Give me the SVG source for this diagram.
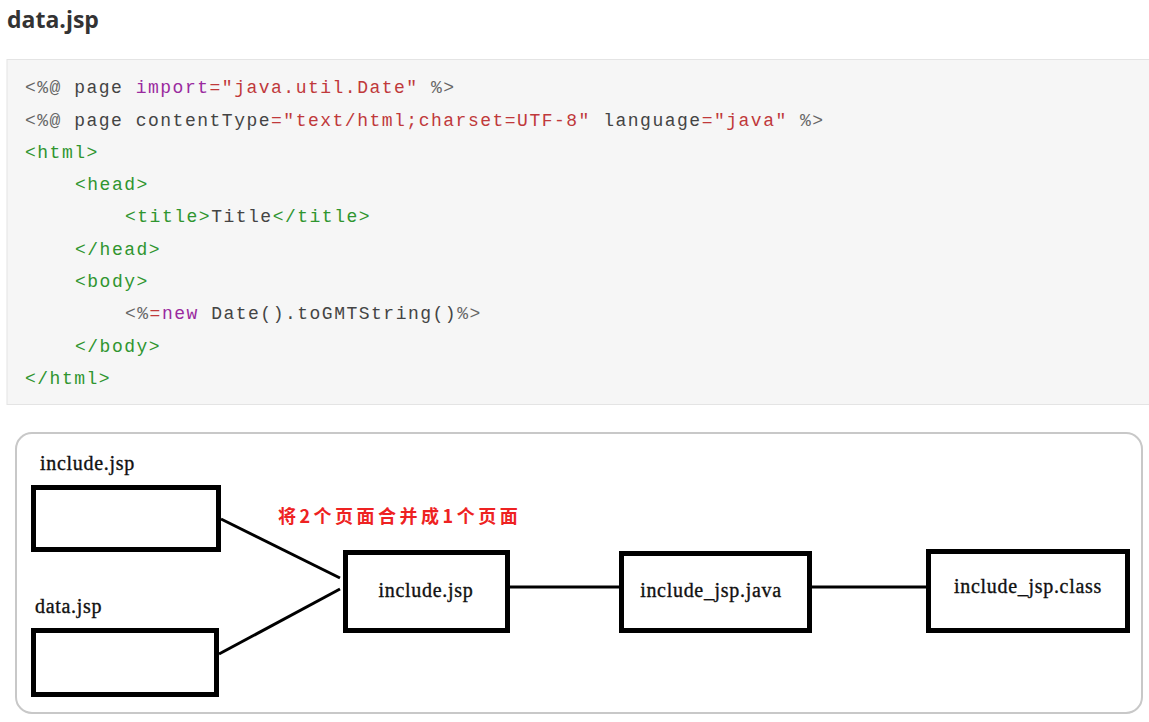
<svg xmlns="http://www.w3.org/2000/svg" width="1149" height="722" viewBox="0 0 1149 722">
<style>
.code{font-family:"Liberation Mono","DejaVu Sans Mono",monospace;font-size:18px;letter-spacing:1.5px;fill:#444;white-space:pre}
.k{fill:#9a2a9f}.s{fill:#c0393b}.t{fill:#2f952f}.g{fill:#666}
.lbl{font-family:"Liberation Serif",serif;font-size:20px;letter-spacing:0.7px;fill:#111;stroke:#111;stroke-width:0.35}
.box{fill:#fff;stroke:#000;stroke-width:5}
.conn{stroke:#000;stroke-width:3;fill:none}
</style>
<rect width="1149" height="722" fill="#fff"/>
<text x="7" y="28" font-family="'Open Sans','Noto Sans',sans-serif" font-weight="bold" font-size="23" fill="#333">data.jsp</text>
<g id="code">
<rect x="7" y="59.5" width="1150" height="345" fill="#f6f6f6" stroke="#e4e4e4" stroke-width="1"/>
<text class="code" x="25" y="93" xml:space="preserve"><tspan class="g">&lt;%@</tspan> page <tspan class="k">import</tspan><tspan class="s">="java.util.Date"</tspan> <tspan class="g">%&gt;</tspan></text>
<text class="code" x="25" y="125.5" xml:space="preserve"><tspan class="g">&lt;%@</tspan> page contentType<tspan class="s">="text/html;charset=UTF-8"</tspan> language<tspan class="s">="java"</tspan> <tspan class="g">%&gt;</tspan></text>
<text class="code t" x="25" y="158">&lt;html&gt;</text>
<text class="code t" x="75" y="190">&lt;head&gt;</text>
<text class="code" x="125" y="222"><tspan class="t">&lt;title&gt;</tspan>Title<tspan class="t">&lt;/title&gt;</tspan></text>
<text class="code t" x="75" y="254.5">&lt;/head&gt;</text>
<text class="code t" x="75" y="287">&lt;body&gt;</text>
<text class="code" x="125" y="319"><tspan class="g">&lt;%</tspan><tspan class="s">=</tspan><tspan class="k">new</tspan> Date().toGMTString()<tspan class="g">%&gt;</tspan></text>
<text class="code t" x="75" y="351.5">&lt;/body&gt;</text>
<text class="code t" x="25" y="384">&lt;/html&gt;</text>
</g>
<rect x="16" y="433" width="1126" height="280" rx="16" fill="#fff" stroke="#c8c8c8" stroke-width="2"/>
<g id="connectors">
<line class="conn" x1="221" y1="519" x2="340" y2="578"/>
<line class="conn" x1="219" y1="654" x2="340" y2="589"/>
<line class="conn" x1="510" y1="587" x2="619" y2="587"/>
<line class="conn" x1="811" y1="587" x2="926" y2="587"/>
</g>
<text x="278" y="523" font-family="'Noto Sans CJK SC',sans-serif" font-weight="bold" font-size="18" letter-spacing="3.5" fill="#ee2222">将2个页面合并成1个页面</text>
<g id="node-include-top">
<text class="lbl" x="40" y="470">include.jsp</text>
<rect class="box" x="33.5" y="487.5" width="185" height="62"/>
</g>
<g id="node-data">
<text class="lbl" x="35" y="613">data.jsp</text>
<rect class="box" x="33.5" y="630.5" width="183" height="64"/>
</g>
<g id="node-include">
<rect class="box" x="345.5" y="552.5" width="162" height="78"/>
<text class="lbl" x="426" y="597" text-anchor="middle">include.jsp</text>
</g>
<g id="node-java">
<rect class="box" x="621.5" y="553.5" width="188" height="77"/>
<text class="lbl" x="711" y="597" text-anchor="middle">include_jsp.java</text>
</g>
<g id="node-class">
<rect class="box" x="928.5" y="551.5" width="199" height="79"/>
<text class="lbl" x="1028" y="593" text-anchor="middle">include_jsp.class</text>
</g>
</svg>
